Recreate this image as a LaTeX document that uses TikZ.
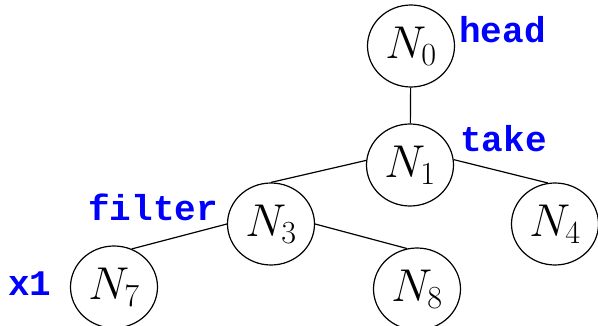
\RequirePackage{fix-cm}
\documentclass[tikz,border=0pt]{standalone}
\usetikzlibrary{shapes.geometric}
\usepackage{fontspec}
\newfontfamily\lblfont{Liberation Mono}
\definecolor{lblblue}{RGB}{0,0,255}
\begin{document}
\begin{tikzpicture}[x=1pt,y=-1pt,
  tnode/.style={draw,ellipse,line width=1.2pt,inner sep=0pt,minimum width=87pt,minimum height=82pt,font=\fontsize{46}{46}\selectfont},
  edge/.style={line width=1.2pt},
  lbl/.style={text=lblblue,font=\lblfont\bfseries\fontsize{36}{36}\selectfont,inner sep=0pt,anchor=base west}]
\useasboundingbox (0,0) rectangle (598,326);
\node[tnode] (N0) at (411,46) {$N_0$};
\node[tnode] (N1) at (410,165) {$N_1$};
\node[tnode] (N3) at (271,224) {$N_3$};
\node[tnode] (N4) at (555,224) {$N_4$};
\node[tnode] (N7) at (114,287) {$N_7$};
\node[tnode] (N8) at (417,289) {$N_8$};
\draw[edge] (N0) -- (N1);
\draw[edge] (N1.174) -- (N3.north);
\draw[edge] (N1.7) -- (N4.100);
\draw[edge] (N3.180) -- (N7.65);
\draw[edge] (N3.0) -- (N8.104);
\node[lbl] (head) at (459,43) {head};
\node[lbl] (take) at (460,152) {take};
\node[lbl] (filter) at (88,221) {filter};
\node[lbl] (x1) at (8,295) {x1};
\end{tikzpicture}
\end{document}
